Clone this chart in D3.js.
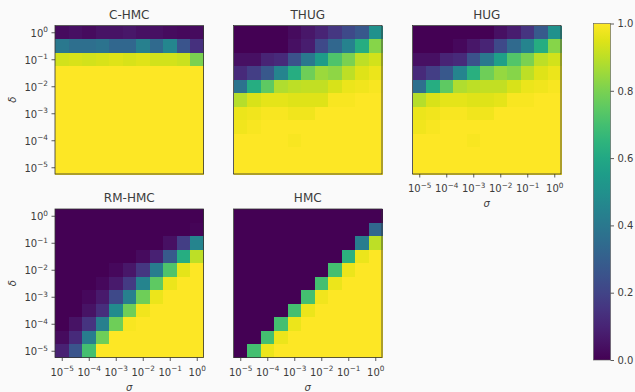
<!DOCTYPE html>
<html>
<head>
<meta charset="utf-8">
<script src="https://cdn.jsdelivr.net/npm/d3@7"></script>
<style>
  body { margin: 0; background: #fafafa; }
  svg { display: block; }
  svg text { font-family: "DejaVu Sans", sans-serif; font-weight: normal; }
  .domain { display: none; }
  .tick line { stroke: #333; stroke-width: 0.8; }
  .tick text { fill: #3c3c3c; font-size: 10px; }
  rect.cell { shape-rendering: crispEdges; }
</style>
</head>
<body>
<svg id="chart" width="635" height="392"></svg>
<script>
// exponents of the grid centres (log10)
const sigmaExp = [-5, -4.5, -4, -3.5, -3, -2.5, -2, -1.5, -1, -0.5, 0];
const deltaExp = [0, -0.5, -1, -1.5, -2, -2.5, -3, -3.5, -4, -4.5, -5]; // top row first
const tickExp = [-5, -4, -3, -2, -1, 0];
const cbTicks = [0, 0.2, 0.4, 0.6, 0.8, 1.0];

const ones = [1, 1, 1, 1, 1, 1, 1, 1, 1, 1, 1];

const cHmc = [
  [0.03, 0.04, 0.03, 0.05, 0.05, 0.06, 0.04, 0.04, 0.03, 0.02, 0.03],
  [0.40, 0.36, 0.36, 0.38, 0.33, 0.33, 0.43, 0.34, 0.46, 0.26, 0.14],
  [0.93, 0.94, 0.93, 0.94, 0.95, 0.94, 0.95, 0.93, 0.93, 0.92, 0.80],
  ones, ones, ones, ones, ones, ones, ones, ones
];

const thug = [
  [0.00, 0.00, 0.00, 0.00, 0.03, 0.06, 0.10, 0.16, 0.22, 0.27, 0.50],
  [0.00, 0.00, 0.00, 0.00, 0.04, 0.08, 0.22, 0.33, 0.44, 0.62, 0.82],
  [0.04, 0.04, 0.10, 0.12, 0.25, 0.40, 0.55, 0.72, 0.80, 0.90, 0.93],
  [0.12, 0.18, 0.27, 0.45, 0.62, 0.78, 0.85, 0.83, 0.90, 0.95, 0.97],
  [0.38, 0.62, 0.75, 0.88, 0.90, 0.91, 0.91, 0.94, 0.97, 0.98, 0.99],
  [0.89, 0.94, 0.96, 0.96, 0.95, 0.95, 0.95, 0.99, 0.99, 1.00, 1.00],
  [0.97, 0.98, 0.99, 0.99, 0.98, 0.98, 1.00, 1.00, 1.00, 1.00, 1.00],
  [0.98, 0.99, 1.00, 1.00, 1.00, 1.00, 1.00, 1.00, 1.00, 1.00, 1.00],
  [1.00, 1.00, 1.00, 1.00, 0.99, 1.00, 1.00, 1.00, 1.00, 1.00, 1.00],
  ones, ones
];

const hug = [
  [0.00, 0.00, 0.00, 0.00, 0.00, 0.00, 0.04, 0.08, 0.15, 0.28, 0.50],
  [0.00, 0.00, 0.00, 0.02, 0.06, 0.10, 0.22, 0.34, 0.45, 0.62, 0.82],
  [0.04, 0.04, 0.10, 0.12, 0.25, 0.40, 0.56, 0.73, 0.80, 0.90, 0.93],
  [0.12, 0.18, 0.27, 0.45, 0.63, 0.78, 0.84, 0.82, 0.90, 0.95, 0.97],
  [0.36, 0.62, 0.75, 0.88, 0.90, 0.91, 0.91, 0.94, 0.97, 0.98, 0.99],
  [0.89, 0.94, 0.96, 0.96, 0.95, 0.95, 0.96, 0.99, 0.99, 1.00, 1.00],
  [0.97, 0.98, 0.99, 0.99, 0.98, 0.98, 1.00, 1.00, 1.00, 1.00, 1.00],
  [0.98, 0.99, 1.00, 1.00, 1.00, 1.00, 1.00, 1.00, 1.00, 1.00, 1.00],
  [1.00, 1.00, 1.00, 1.00, 0.99, 1.00, 1.00, 1.00, 1.00, 1.00, 1.00],
  ones, ones
];

const rmHmc = [
  [0.00, 0.00, 0.00, 0.00, 0.00, 0.00, 0.00, 0.00, 0.00, 0.00, 0.00],
  [0.00, 0.00, 0.00, 0.00, 0.00, 0.00, 0.00, 0.00, 0.00, 0.00, 0.01],
  [0.00, 0.00, 0.00, 0.00, 0.00, 0.00, 0.00, 0.00, 0.04, 0.18, 0.45],
  [0.00, 0.00, 0.00, 0.00, 0.00, 0.00, 0.03, 0.09, 0.28, 0.62, 0.90],
  [0.00, 0.00, 0.00, 0.00, 0.02, 0.06, 0.16, 0.42, 0.72, 0.96, 1.00],
  [0.00, 0.00, 0.00, 0.02, 0.07, 0.17, 0.45, 0.75, 0.97, 1.00, 1.00],
  [0.00, 0.00, 0.02, 0.07, 0.22, 0.43, 0.78, 0.97, 1.00, 1.00, 1.00],
  [0.00, 0.00, 0.05, 0.13, 0.48, 0.78, 0.98, 1.00, 1.00, 1.00, 1.00],
  [0.00, 0.05, 0.15, 0.43, 0.78, 0.99, 1.00, 1.00, 1.00, 1.00, 1.00],
  [0.03, 0.12, 0.42, 0.78, 1.00, 1.00, 1.00, 1.00, 1.00, 1.00, 1.00],
  [0.09, 0.26, 0.70, 1.00, 1.00, 1.00, 1.00, 1.00, 1.00, 1.00, 1.00]
];

const hmc = [
  [0.00, 0.00, 0.00, 0.00, 0.00, 0.00, 0.00, 0.00, 0.00, 0.00, 0.00],
  [0.00, 0.00, 0.00, 0.00, 0.00, 0.00, 0.00, 0.00, 0.00, 0.00, 0.33],
  [0.00, 0.00, 0.00, 0.00, 0.00, 0.00, 0.00, 0.00, 0.00, 0.42, 0.90],
  [0.00, 0.00, 0.00, 0.00, 0.00, 0.00, 0.00, 0.00, 0.64, 0.97, 1.00],
  [0.00, 0.00, 0.00, 0.00, 0.00, 0.00, 0.00, 0.70, 0.97, 1.00, 1.00],
  [0.00, 0.00, 0.00, 0.00, 0.00, 0.00, 0.70, 0.97, 1.00, 1.00, 1.00],
  [0.00, 0.00, 0.00, 0.00, 0.00, 0.70, 0.98, 1.00, 1.00, 1.00, 1.00],
  [0.00, 0.00, 0.00, 0.00, 0.70, 0.97, 1.00, 1.00, 1.00, 1.00, 1.00],
  [0.00, 0.00, 0.00, 0.70, 0.97, 1.00, 1.00, 1.00, 1.00, 1.00, 1.00],
  [0.00, 0.00, 0.70, 0.97, 1.00, 1.00, 1.00, 1.00, 1.00, 1.00, 1.00],
  [0.00, 0.70, 0.97, 1.00, 1.00, 1.00, 1.00, 1.00, 1.00, 1.00, 1.00]
];

const panels = [
  { title: 'C-HMC', data: cHmc, col: 0, row: 0, xAxis: false, yAxis: true },
  { title: 'THUG', data: thug, col: 1, row: 0, xAxis: false, yAxis: false },
  { title: 'HUG', data: hug, col: 2, row: 0, xAxis: true, yAxis: false },
  { title: 'RM-HMC', data: rmHmc, col: 0, row: 1, xAxis: true, yAxis: true },
  { title: 'HMC', data: hmc, col: 1, row: 1, xAxis: true, yAxis: false }
];

const svg = d3.select('#chart');
const size = 148.5;
const colX = [55, 233.5, 412.5];
const rowY = [25.5, 209];
const color = d3.scaleSequential(d3.interpolateViridis).domain([0, 1]);

const half = 0.25;
const expDomain = [Math.pow(10, -5 - half), Math.pow(10, 0 + half)];
const font = '"DejaVu Sans", sans-serif';
const textColor = '#3c3c3c';

// write "10^n" as mathtext-like label
function powLabel(sel) {
  sel.each(function(d) {
    const t = d3.select(this).text(null);
    const e = Math.round(Math.log10(d));
    t.append('tspan').text('10');
    t.append('tspan')
      .attr('dy', '-0.6em')
      .attr('font-size', '7.3px')
      .text(e < 0 ? '\u2212' + (-e) : String(e));
  });
}

panels.forEach(p => {
  const x0 = colX[p.col], y0 = rowY[p.row];
  const g = svg.append('g').attr('transform', `translate(${x0},${y0})`);

  const x = d3.scaleLog().domain(expDomain).range([0, size]);
  const y = d3.scaleLog().domain(expDomain).range([size, 0]);

  const cells = [];
  p.data.forEach((r, i) => r.forEach((v, j) => cells.push({ i, j, v })));

  g.selectAll('rect.cell')
    .data(cells)
    .enter()
    .append('rect')
    .attr('class', 'cell')
    .attr('x', d => x(Math.pow(10, sigmaExp[d.j] - half)))
    .attr('width', d => x(Math.pow(10, sigmaExp[d.j] + half)) - x(Math.pow(10, sigmaExp[d.j] - half)) + 0.5)
    .attr('y', d => y(Math.pow(10, deltaExp[d.i] + half)))
    .attr('height', d => y(Math.pow(10, deltaExp[d.i] - half)) - y(Math.pow(10, deltaExp[d.i] + half)) + 0.5)
    .attr('fill', d => color(d.v));

  g.append('rect')
    .attr('width', size)
    .attr('height', size)
    .attr('fill', 'none')
    .attr('stroke', '#333')
    .attr('stroke-width', 0.8);

  g.append('text')
    .attr('x', size / 2)
    .attr('y', -7)
    .attr('text-anchor', 'middle')
    .attr('font-size', '12px')
    .attr('fill', textColor)
    .text(p.title);

  const ticks = tickExp.map(e => Math.pow(10, e));

  if (p.xAxis) {
    const ax = g.append('g')
      .attr('transform', `translate(0,${size})`)
      .call(d3.axisBottom(x).tickValues(ticks).tickSize(3.5).tickPadding(3.5))
      .attr('font-family', font);
    ax.selectAll('.tick text').attr('dy', '1.12em').call(powLabel);
    g.append('text')
      .attr('x', size / 2)
      .attr('y', size + 33)
      .attr('text-anchor', 'middle')
      .attr('font-size', '10px')
      .attr('font-style', 'italic')
      .attr('fill', textColor)
      .text('\u03c3');
  }

  if (p.yAxis) {
    const ay = g.append('g')
      .call(d3.axisLeft(y).tickValues(ticks).tickSize(3.5).tickPadding(3.5))
      .attr('font-family', font);
    ay.selectAll('.tick text').attr('dy', '0.4em').call(powLabel);
    g.append('text')
      .attr('transform', `translate(${15.5 - x0},${size / 2}) rotate(-90)`)
      .attr('text-anchor', 'middle')
      .attr('font-size', '10px')
      .attr('font-style', 'italic')
      .attr('fill', textColor)
      .text('\u03b4');
  }
});

// colorbar
const cbX = 593.5, cbW = 17, cbTop = 23.5, cbBot = 360;
const defs = svg.append('defs');
const grad = defs.append('linearGradient')
  .attr('id', 'cbGrad')
  .attr('x1', 0).attr('y1', 1).attr('x2', 0).attr('y2', 0);
grad.selectAll('stop')
  .data(d3.range(0, 1.0001, 0.05))
  .enter()
  .append('stop')
  .attr('offset', d => d)
  .attr('stop-color', d => color(d));

svg.append('rect')
  .attr('x', cbX)
  .attr('y', cbTop)
  .attr('width', cbW)
  .attr('height', cbBot - cbTop)
  .attr('fill', 'url(#cbGrad)')
  .attr('stroke', '#555')
  .attr('stroke-width', 0.6);

const cbScale = d3.scaleLinear().domain([0, 1]).range([cbBot, cbTop]);
svg.append('g')
  .attr('transform', `translate(${cbX + cbW},0)`)
  .call(d3.axisRight(cbScale).tickValues(cbTicks).tickSize(3.5).tickPadding(3.5).tickFormat(d3.format('.1f')))
  .attr('font-family', font);
</script>
</body>
</html>
